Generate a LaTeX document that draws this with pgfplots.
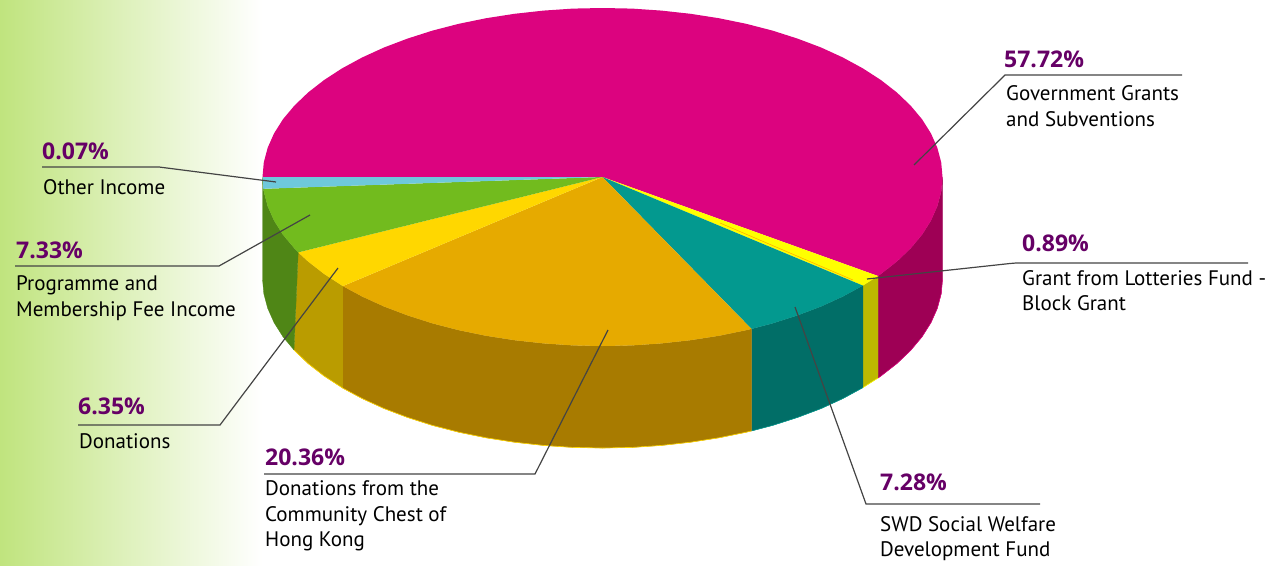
\documentclass[border=0pt]{standalone}
\usepackage{pgfplots}
\pgfplotsset{compat=1.18}
\usepackage{fontspec}
\setmainfont{PT Sans}
\newfontfamily\pctfont{Open Sans}
\definecolor{bgl}{HTML}{C0E47E}
\definecolor{magt}{HTML}{DC037F}\definecolor{mags}{HTML}{9E0055}
\definecolor{yelt}{HTML}{FFFF00}\definecolor{yels}{HTML}{BDB900}
\definecolor{teat}{HTML}{03998F}\definecolor{teas}{HTML}{016E67}
\definecolor{orat}{HTML}{E6AA00}\definecolor{oras}{HTML}{A87B00}
\definecolor{golt}{HTML}{FFD700}\definecolor{gols}{HTML}{BA9C00}
\definecolor{gret}{HTML}{72BB1E}\definecolor{gres}{HTML}{4F8616}
\definecolor{blut}{HTML}{6EC9DB}
\definecolor{purp}{HTML}{660066}\definecolor{lead}{HTML}{444444}
\newcommand{\pct}[3]{\node[anchor=base west,inner sep=0pt,yshift=-1pt,text=purp,font=\fontsize{23}{24}\selectfont\pctfont\bfseries] at (axis cs:#1,#2) {#3};}
\newcommand{\lab}[3]{\node[anchor=base west,inner sep=0pt,yshift=-1pt,text=black,font=\fontsize{21}{24}\selectfont] at (axis cs:#1,#2) {#3};}
\begin{document}
\begin{tikzpicture}
\path[use as bounding box] (0,0) rectangle (1268pt,565pt);
\begin{axis}[at={(0,0)},anchor=south west,width=1268pt,height=565pt,scale only axis,xmin=0,xmax=1268,ymin=0,ymax=565,y dir=reverse,hide axis,no markers,clip=true]
\fill[left color=bgl,right color=white] (axis cs:0,0) rectangle (axis cs:262,565);
% sides
\addplot[fill=mags,draw=mags,line width=0.3pt] coordinates {(942.5,177)(941.2,191.7)(937.3,206.3)(930.9,220.7)(922,234.8)(910.6,248.4)(896.9,261.5)(881,273.9)(878,276)(878,378)(881,375.9)(896.9,363.5)(910.6,350.4)(922,336.8)(930.9,322.7)(937.3,308.3)(941.2,293.7)(942.5,279)} --cycle;
\addplot[fill=yels,draw=yels,line width=0.3pt] coordinates {(878,276)(862.9,285.6)(862.9,387.6)(878,378)} --cycle;
\addplot[fill=teas,draw=teas,line width=0.3pt] coordinates {(862.9,285.6)(842.9,296.5)(821.1,306.5)(797.5,315.4)(772.5,323.4)(751.5,328.9)(751.5,430.9)(772.5,425.4)(797.5,417.4)(821.1,408.5)(842.9,398.5)(862.9,387.6)} --cycle;
\addplot[fill=oras,draw=oras,line width=0.3pt] coordinates {(751.5,328.9)(746.2,330.2)(718.8,335.8)(690.5,340.2)(661.5,343.4)(632.1,345.4)(602.5,346)(572.9,345.4)(543.5,343.4)(514.5,340.2)(486.2,335.8)(458.8,330.2)(432.5,323.4)(407.5,315.4)(384,306.5)(362.1,296.5)(342.8,286.1)(342.8,388.1)(362.1,398.5)(384,408.5)(407.5,417.4)(432.5,425.4)(458.8,432.2)(486.2,437.8)(514.5,442.2)(543.5,445.4)(572.9,447.4)(602.5,448)(632.1,447.4)(661.5,445.4)(690.5,442.2)(718.8,437.8)(746.2,432.2)(751.5,430.9)} --cycle;
\addplot[fill=gols,draw=gols,line width=0.3pt] coordinates {(342.8,286.1)(324,273.9)(308.1,261.5)(298.2,252.4)(294,350)(308.1,363.5)(324,375.9)(342.8,388.1)} --cycle;
\addplot[fill=gres,draw=gres,line width=0.3pt] coordinates {(298.2,252.4)(294.4,248.4)(283,234.8)(274.1,220.7)(267.7,206.3)(263.8,191.7)(262.5,177)(262.5,279)(263.8,293.7)(267.7,308.3)(274.1,322.7)(283,336.8)(294,350)} --cycle;
% bottom rims
\addplot[draw=magt,line width=0.5pt] coordinates {(942.5,279)(941.2,293.7)(937.3,308.3)(930.9,322.7)(922,336.8)(910.6,350.4)(896.9,363.5)(881,375.9)(878,378)};
\addplot[draw=yelt,line width=0.5pt] coordinates {(878,378)(862.9,387.6)};
\addplot[draw=teat,line width=0.5pt] coordinates {(862.9,387.6)(842.9,398.5)(821.1,408.5)(797.5,417.4)(772.5,425.4)(751.5,430.9)};
\addplot[draw=golt,line width=0.6pt] coordinates {(751.5,430.9)(746.2,432.2)(718.8,437.8)(690.5,442.2)(661.5,445.4)(632.1,447.4)(602.5,448)(572.9,447.4)(543.5,445.4)(514.5,442.2)(486.2,437.8)(458.8,432.2)(432.5,425.4)(407.5,417.4)(384,408.5)(362.1,398.5)(342.8,388.1)(324,375.9)(308.1,363.5)(294,350)};
% tops
\addplot[fill=magt,draw=none] coordinates {(602.5,177)(262.5,177)(263.8,162.3)(267.7,147.7)(274.1,133.3)(283,119.2)(294.4,105.6)(308.1,92.5)(324,80.1)(342,68.4)(362.1,57.5)(384,47.5)(407.5,38.6)(432.5,30.6)(458.8,23.8)(486.2,18.2)(514.5,13.8)(543.5,10.6)(572.9,8.6)(602.5,8)(632.1,8.6)(661.5,10.6)(690.5,13.8)(718.8,18.2)(746.2,23.8)(772.5,30.6)(797.5,38.6)(821.1,47.5)(842.9,57.5)(862.9,68.4)(881,80.1)(896.9,92.5)(910.6,105.6)(922,119.2)(930.9,133.3)(937.3,147.7)(941.2,162.3)(942.5,177)(941.2,191.7)(937.3,206.3)(930.9,220.7)(922,234.8)(910.6,248.4)(896.9,261.5)(881,273.9)(878,276)} --cycle;
\addplot[fill=yelt,draw=none] coordinates {(602.5,177)(878,276)(862.9,285.6)} --cycle;
\addplot[draw=orange!80!yellow,line width=0.4pt] coordinates {(720,223)(853,280)};
\addplot[fill=teat,draw=none] coordinates {(602.5,177)(862.9,285.6)(842.9,296.5)(821.1,306.5)(797.5,315.4)(772.5,323.4)(751.5,328.9)} --cycle;
\addplot[fill=orat,draw=none] coordinates {(602.5,177)(751.5,328.9)(746.2,330.2)(718.8,335.8)(690.5,340.2)(661.5,343.4)(632.1,345.4)(602.5,346)(572.9,345.4)(543.5,343.4)(514.5,340.2)(486.2,335.8)(458.8,330.2)(432.5,323.4)(407.5,315.4)(384,306.5)(362.1,296.5)(342.8,286.1)} --cycle;
\addplot[fill=golt,draw=none] coordinates {(602.5,177)(342.8,286.1)(324,273.9)(308.1,261.5)(298.2,252.4)} --cycle;
\addplot[fill=gret,draw=none] coordinates {(602.5,177)(298.2,252.4)(294.4,248.4)(283,234.8)(274.1,220.7)(267.7,206.3)(263.8,191.7)(263.3,188.8)} --cycle;
\addplot[fill=blut,draw=none] coordinates {(602.5,177)(263.3,188.8)(262.5,177)} --cycle;
% leaders
\addplot[draw=lead,line width=1.2pt] coordinates {(914,165)(1003,77)(1005,75)(1182,75)};
\addplot[draw=lead,line width=1.2pt] coordinates {(867,279)(1010,263.5)(1016,263)(1248,263)};
\addplot[draw=lead,line width=1.2pt] coordinates {(795,307)(866,504)(1040,504)};
\addplot[draw=lead,line width=1.2pt] coordinates {(608,330)(535,474)(264,474)};
\addplot[draw=lead,line width=1.2pt] coordinates {(338,268)(220,425)(78,425)};
\addplot[draw=lead,line width=1.2pt] coordinates {(310,215)(219,266)(15,266)};
\addplot[draw=lead,line width=1.2pt] coordinates {(276,182)(159,167)(42,167)};
% labels
\pct{1004}{66}{57.72\%}
\lab{1006}{99}{Government Grants}
\lab{1006}{125}{and Subventions}
\pct{1022}{250}{0.89\%}
\lab{1022}{284}{Grant from Lotteries Fund -}
\lab{1022}{309}{Block Grant}
\pct{880}{489}{7.28\%}
\lab{880}{530}{SWD Social Welfare}
\lab{880}{555}{Development Fund}
\pct{265}{464}{20.36\%}
\lab{265}{494}{Donations from the}
\lab{265}{520}{Community Chest of}
\lab{265}{545}{Hong Kong}
\pct{78}{413}{6.35\%}
\lab{79}{447}{Donations}
\pct{16}{257}{7.33\%}
\lab{16}{289}{Programme and}
\lab{16}{315}{Membership Fee Income}
\pct{42}{158}{0.07\%}
\lab{43}{193}{Other Income}
\end{axis}
\end{tikzpicture}
\end{document}
